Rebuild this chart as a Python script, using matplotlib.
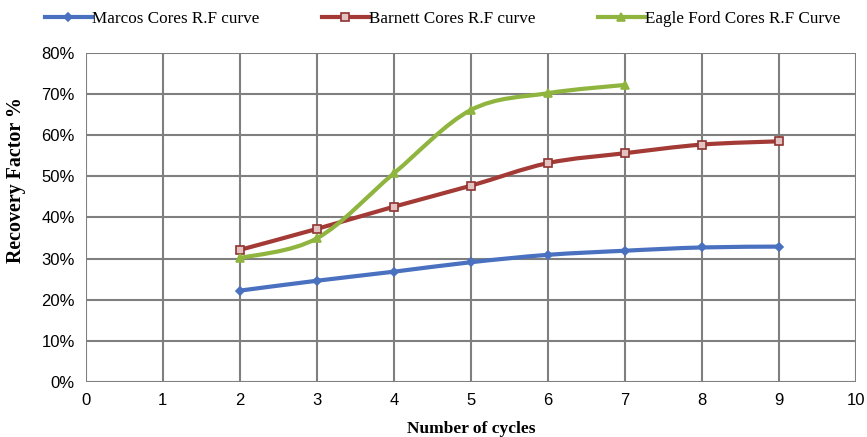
import numpy as np
import matplotlib
matplotlib.use("Agg")
import matplotlib.pyplot as plt
from matplotlib.path import Path
from matplotlib.patches import PathPatch
from matplotlib.lines import Line2D
import matplotlib.ticker as mticker

# --- Data (recovery factor, %) ---
cycles = [2, 3, 4, 5, 6, 7, 8, 9]
marcos = [22.2, 24.6, 26.8, 29.1, 30.9, 31.9, 32.7, 32.9]
barnett = [32.1, 37.2, 42.6, 47.7, 53.2, 55.6, 57.7, 58.5]
eagle_cycles = [2, 3, 4, 5, 6, 7]
eagle = [30.1, 34.9, 50.7, 66.1, 70.2, 72.2]
x_ticks = list(range(0, 11))
y_ticks = list(range(0, 81, 10))

SERIF = ['Liberation Serif', 'DejaVu Serif']
SANS = ['Liberation Sans', 'DejaVu Sans']


def smooth_path(x, y, tension=0.5):
    # Excel-style smoothed line: cubic Bezier through each data point
    x = np.asarray(x, float)
    y = np.asarray(y, float)
    n = len(x)
    verts = [(x[0], y[0])]
    codes = [Path.MOVETO]
    for i in range(n - 1):
        x0, y0 = (x[i - 1], y[i - 1]) if i > 0 else (x[i], y[i])
        x3, y3 = (x[i + 2], y[i + 2]) if i + 2 < n else (x[i + 1], y[i + 1])
        c1 = (x[i] + (x[i + 1] - x0) * tension / 3, y[i] + (y[i + 1] - y0) * tension / 3)
        c2 = (x[i + 1] - (x3 - x[i]) * tension / 3, y[i + 1] - (y3 - y[i]) * tension / 3)
        verts += [c1, c2, (x[i + 1], y[i + 1])]
        codes += [Path.CURVE4] * 3
    return Path(verts, codes)


fig = plt.figure(figsize=(8.67, 4.37), dpi=100)
ax = fig.add_axes([0.099, 0.126, 0.888, 0.753])

series = [
    (cycles, marcos, '#4a70c0', 'D', '#4a70c0', '#4a70c0', 4, 'Marcos Cores R.F curve'),
    (cycles, barnett, '#a33a36', 's', '#e3c2c1', '#8f3430', 6, 'Barnett Cores R.F curve'),
    (eagle_cycles, eagle, '#8fb53f', '^', '#8fb53f', '#8fb53f', 6, 'Eagle Ford Cores R.F Curve'),
]

handles = []
for xs, ys, col, mk, mfc, mec, ms, lab in series:
    ax.add_patch(PathPatch(smooth_path(xs, ys), fill=False, edgecolor=col, lw=3.0,
                           capstyle='round', joinstyle='round', zorder=3))
    ax.plot(xs, ys, linestyle='none', marker=mk, ms=ms, mfc=mfc, mec=mec, mew=1.2, zorder=4)
    handles.append(Line2D([], [], color=col, lw=3.0, marker=mk, ms=ms, mfc=mfc, mec=mec, mew=1.2))

ax.set_xlim(0, 10)
ax.set_ylim(0, 80)
ax.set_xticks(x_ticks)
ax.set_yticks(y_ticks)
ax.yaxis.set_major_formatter(mticker.FormatStrFormatter('%d%%'))
ax.grid(True, color='#7f7f7f', lw=1.5)
ax.set_axisbelow(True)
for s in ax.spines.values():
    s.set_visible(False)
ax.tick_params(length=0, pad=8, labelsize=12)
for lbl in ax.get_xticklabels() + ax.get_yticklabels():
    lbl.set_family(SANS)

ax.set_xlabel('Number of cycles', family=SERIF, fontweight='bold', fontsize=12.5, labelpad=9)
ax.set_ylabel('Recovery Factor %', family=SERIF, fontweight='bold', fontsize=14.4)
ax.yaxis.set_label_coords(-0.078, 0.614)

fig.legend(handles, [h for *_, h in series], loc='center left',
           bbox_to_anchor=(45 / 867, 1 - 19 / 437), ncol=3, frameon=False,
           borderpad=0, borderaxespad=0, handlelength=2.75, handletextpad=0.0,
           columnspacing=3.65, prop={'family': SERIF, 'size': 12.3})

fig.savefig('out.png', dpi=100)
